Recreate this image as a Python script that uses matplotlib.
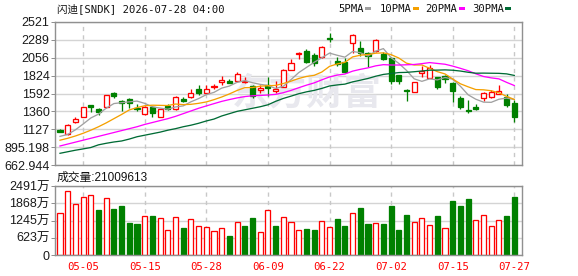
import numpy as np
import matplotlib.pyplot as plt
from matplotlib.patches import Rectangle

title = '闪迪[SNDK] 2026-07-28 04:00'

opens = [1122, 1066, 1226, 1291, 1439, 1387, 1413, 1603, 1498, 1517,
         1406, 1330, 1413, 1291, 1434, 1387, 1525, 1550, 1654, 1603,
         1680, 1741, 1758, 1751, 1745, 1689, 1634, 1700, 1628, 1680,
         1897, 2108, 2148, 2088, 2062, 2307, 2018, 2005, 2252, 2179,
         2114, 2148, 2101, 2057, 1832, 1634, 1608, 1854, 1797, 1802,
         1819, 1732, 1537, 1371, 1420, 1530, 1543, 1585, 1550, 1465]
highs = [1131, 1196, 1283, 1423, 1449, 1400, 1573, 1615, 1511, 1530,
         1452, 1430, 1430, 1397, 1452, 1553, 1543, 1647, 1702, 1698,
         1715, 1819, 1776, 1871, 1810, 1702, 1702, 1802, 1758, 1904,
         2036, 2135, 2166, 2114, 2203, 2374, 2070, 2049, 2365, 2278,
         2127, 2296, 2135, 2070, 1836, 1650, 1741, 1949, 1962, 1810,
         1832, 1741, 1560, 1508, 1452, 1608, 1637, 1702, 1582, 1508]
lows = [1086, 1053, 1213, 1287, 1348, 1309, 1404, 1530, 1369, 1400,
        1365, 1319, 1283, 1287, 1378, 1378, 1478, 1530, 1572, 1585,
        1650, 1702, 1724, 1741, 1724, 1530, 1603, 1560, 1603, 1676,
        1891, 2036, 1984, 1953, 2053, 2265, 1953, 1854, 2114, 2079,
        1940, 2135, 2027, 1715, 1715, 1498, 1605, 1810, 1790, 1650,
        1724, 1485, 1391, 1335, 1378, 1498, 1530, 1582, 1417, 1226]
closes = [1096, 1183, 1261, 1413, 1416, 1348, 1569, 1560, 1472, 1469,
          1397, 1421, 1335, 1391, 1395, 1543, 1491, 1599, 1602, 1650,
          1693, 1767, 1732, 1845, 1757, 1560, 1660, 1664, 1647, 1897,
          1992, 2116, 1997, 1984, 2192, 2296, 1975, 1875, 2352, 2114,
          2083, 2287, 2040, 1758, 1750, 1625, 1738, 1880, 1919, 1680,
          1784, 1628, 1420, 1365, 1391, 1595, 1615, 1620, 1443, 1291]
prev_close = 1080

# volume in 万
volumes = [1521, 2323, 1824, 2104, 2152, 1641, 2068, 1678, 1751, 1167,
           1131, 1411, 1422, 1338, 901, 1375, 985, 1302, 1047, 1010,
           864, 974, 693, 1193, 1058, 1349, 828, 1630, 1058, 1375,
           1193, 901, 948, 912, 1229, 1010, 1313, 1058, 1521, 1714,
           1131, 1156, 1131, 1751, 912, 1459, 1193, 1338, 1083, 1422,
           974, 1933, 1787, 2006, 1265, 1459, 1047, 1265, 1422, 2101]
last_volume = 21009613

# moving average values before the window is full
ma5_head = [1035, 1060, 1120, 1195]
ma10_head = [985, 1010, 1040, 1075, 1115, 1160, 1210, 1265, 1320]
ma20_head = [910, 935, 960, 985, 1010, 1035, 1060, 1085, 1110, 1135,
             1160, 1190, 1215, 1240, 1265, 1295, 1330, 1365, 1400]
ma30_head = [815, 835, 855, 872, 890, 925, 945, 962, 975, 1000,
             1030, 1050, 1070, 1090, 1115, 1135, 1160, 1180, 1205, 1235,
             1260, 1300, 1330, 1360, 1380, 1400, 1420, 1445, 1490]

date_labels = ['05-05', '05-15', '05-28', '06-09', '06-22', '07-02', '07-15', '07-27']
date_pos = [3, 11, 19, 27, 35, 43, 51, 59]

price_ticks = [2521, 2288.743, 2056.486, 1824.229, 1591.972, 1359.715, 1127.458, 895.198, 662.944]
price_labels = ['2521', '2289', '2056', '1824', '1592', '1360', '1127', '895.198', '662.944']
vol_ticks = [0, 622.75, 1245.5, 1868.25, 2491]
vol_labels = ['0', '623万', '1245万', '1868万', '2491万']

ma_names = ['5PMA', '10PMA', '20PMA', '30PMA']
ma_colors = ['#a0a0a0', '#f5a000', '#ff00ff', '#006b35']

RED = '#ff0000'
GREEN = '#008000'
GRID = '#d4d4d4'
SPINE = '#909090'
PX = 0.72  # one pixel in points

W, H = 578, 276
plt.rcParams['font.family'] = ['Liberation Sans', 'Noto Sans CJK SC']
mono = ['DejaVu Sans Mono', 'Noto Sans CJK SC']


def moving_avg(head, n):
    c = np.array(closes, float)
    out = list(head)
    for i in range(n - 1, len(c)):
        out.append(c[i - n + 1:i + 1].mean())
    return np.array(out)


def fx(px):
    return px / W


def fy(py):
    return 1 - py / H


def style_axis(ax):
    for s in ax.spines.values():
        s.set_color(SPINE)
        s.set_linewidth(1.4 * PX)
    ax.tick_params(axis='y', length=3, width=PX, color=SPINE, pad=1, labelsize=9, labelcolor='#1a1a1a')
    ax.grid(axis='y', color=GRID, lw=1.4 * PX, ls='-')
    for p in date_pos:
        ax.axvline(p, color='#c8c8c8', lw=1.4 * PX, ls=(0, (3, 3)), zorder=0.6)
    ax.set_axisbelow(True)
    ax.set_xlim(-0.65, 60.0)


fig = plt.figure(figsize=(W / 100, H / 100), dpi=100)
ax = fig.add_axes([fx(55), fy(165), fx(522) - fx(55), fy(22) - fy(165)])
axv = fig.add_axes([fx(55), fy(255), fx(522) - fx(55), fy(186) - fy(255)])

n = len(closes)
x = np.arange(n)
w = 0.66

# candles
for i in range(n):
    o, h, l, c = opens[i], highs[i], lows[i], closes[i]
    up = c >= o
    col = RED if up else GREEN
    lo, hi = min(o, c), max(o, c)
    ax.vlines(i, l, lo, color=col, lw=1.3 * PX, zorder=2)
    ax.vlines(i, hi, h, color=col, lw=1.3 * PX, zorder=2)
    bh = max(hi - lo, 9)
    ax.add_patch(Rectangle((i - w / 2, lo), w, bh, facecolor='white' if up else col,
                           edgecolor=col, lw=1.3 * PX, zorder=2))

# moving averages
heads = [ma5_head, ma10_head, ma20_head, ma30_head]
for head, per, col in zip(heads, [5, 10, 20, 30], ma_colors):
    ax.plot(x, moving_avg(head, per), color=col, lw=1.3 * PX, zorder=3)

ax.set_ylim(662.944, 2521)
ax.set_yticks(price_ticks)
ax.set_yticklabels(price_labels)
ax.set_xticks([])
style_axis(ax)
ax.text(0.54, 0.5, '东方财富', transform=ax.transAxes, ha='center', va='center',
        fontsize=27, fontweight='bold', color='#e8e8ee', family=['Noto Sans CJK SC'], zorder=1)

# volume
vols = list(volumes[:-1]) + [last_volume / 1e4]
prev = [prev_close] + closes[:-1]
for i in range(n):
    up = closes[i] >= prev[i]
    col = RED if up else GREEN
    axv.bar(i, vols[i], width=w, facecolor='white' if up else col, edgecolor=col,
            lw=1.3 * PX, zorder=2)

axv.set_ylim(0, 2491)
axv.set_yticks(vol_ticks)
axv.set_yticklabels(vol_labels)
axv.set_xticks(date_pos)
axv.set_xticklabels(date_labels, family=mono, fontsize=7.7, color=RED)
axv.tick_params(axis='x', length=0, pad=5)
style_axis(axv)

# header texts
fig.text(fx(57), fy(8.5), title, va='center', ha='left', fontsize=7.6, family=mono, color='#111111')
fig.text(fx(57), fy(177.5), '成交量:%d' % last_volume, va='center', ha='left', fontsize=8.5, color='#111111')

leg_x = [338, 380, 425, 472]
sq_x = [365, 413, 459, 505]
for name, col, tx, sx in zip(ma_names, ma_colors, leg_x, sq_x):
    fig.text(fx(tx), fy(8.5), name, va='center', ha='left', fontsize=7.6, family=mono, color='#111111')
    fig.patches.append(Rectangle((fx(sx), fy(10)), 6 / W, 3 / H, transform=fig.transFigure,
                                 facecolor=col, edgecolor='none'))

fig.savefig('out.png', dpi=100)
